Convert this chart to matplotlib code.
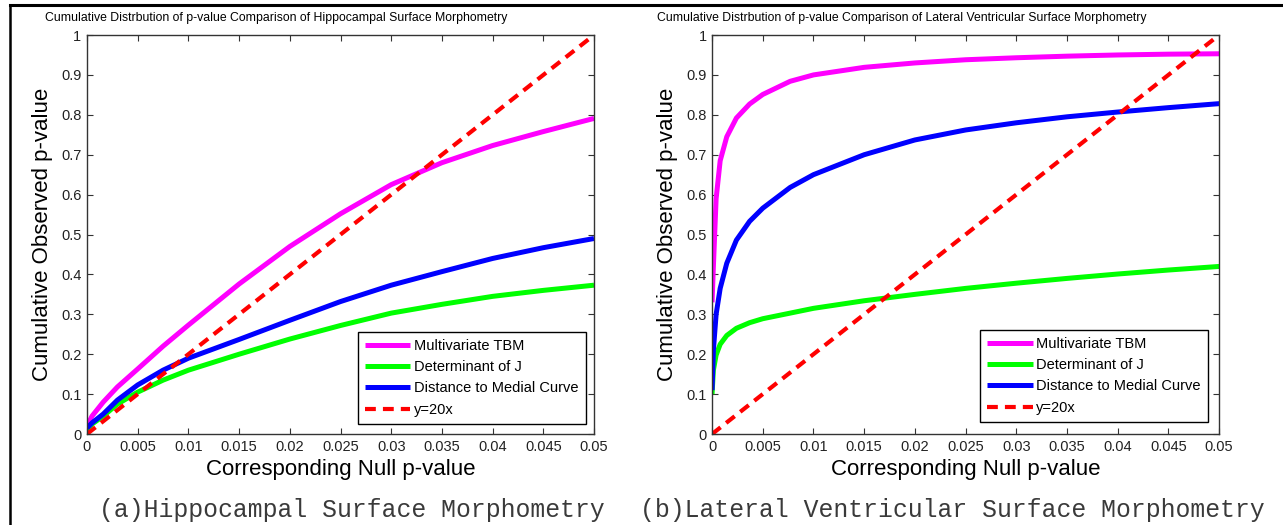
import matplotlib
matplotlib.use('Agg')
import matplotlib.pyplot as plt
from matplotlib.lines import Line2D
from matplotlib.ticker import FormatStrFormatter

# hippocampal panel (a)
hip_x = [0, 0.0005, 0.0016, 0.003, 0.005, 0.0075, 0.01, 0.015, 0.02, 0.025, 0.03, 0.035, 0.04, 0.045, 0.05]
hip_mtbm = [0.02, 0.045, 0.08, 0.118, 0.163, 0.22, 0.273, 0.376, 0.47, 0.552, 0.625, 0.68, 0.723, 0.758, 0.791]
hip_detj = [0.01, 0.025, 0.045, 0.075, 0.105, 0.135, 0.16, 0.2, 0.238, 0.272, 0.303, 0.325, 0.345, 0.36, 0.373]
hip_dist = [0.015, 0.028, 0.05, 0.085, 0.123, 0.16, 0.19, 0.237, 0.285, 0.332, 0.373, 0.407, 0.44, 0.467, 0.49]

# lateral ventricular panel (b)
lat_x = [0, 0.00013, 0.0004, 0.0008, 0.00145, 0.0024, 0.0037, 0.005, 0.0077, 0.01,
         0.015, 0.02, 0.025, 0.03, 0.035, 0.04, 0.045, 0.05]
lat_mtbm = [0.33, 0.42, 0.59, 0.685, 0.745, 0.792, 0.827, 0.851, 0.884, 0.90,
            0.919, 0.93, 0.938, 0.943, 0.947, 0.95, 0.952, 0.953]
lat_detj = [0.10, 0.16, 0.198, 0.225, 0.247, 0.265, 0.279, 0.289, 0.303, 0.315,
            0.334, 0.35, 0.365, 0.378, 0.39, 0.401, 0.411, 0.42]
lat_dist = [0.11, 0.21, 0.30, 0.365, 0.428, 0.486, 0.533, 0.566, 0.618, 0.65,
            0.70, 0.737, 0.762, 0.78, 0.795, 0.807, 0.818, 0.828]

# reference line y = 20x
ref_x = [0, 0.05]
ref_y = [0, 1]

labels = ['Multivariate TBM', 'Determinant of J', 'Distance to Medial Curve', 'y=20x']
colors = ['#ff00ff', '#00ff00', '#0000ff', '#ff0000']
titles = ['Cumulative Distrbution of p-value Comparison of Hippocampal Surface Morphometry',
          'Cumulative Distrbution of p-value Comparison of Lateral Ventricular Surface Morphometry']
captions = ['(a)Hippocampal Surface Morphometry', '(b)Lateral Ventricular Surface Morphometry']

xticks = [0, 0.005, 0.01, 0.015, 0.02, 0.025, 0.03, 0.035, 0.04, 0.045, 0.05]
yticks = [0, 0.1, 0.2, 0.3, 0.4, 0.5, 0.6, 0.7, 0.8, 0.9, 1]

plt.rcParams['font.family'] = ['Liberation Sans', 'DejaVu Sans']

fig = plt.figure(figsize=(12.83, 5.25), dpi=100)
ax_pos = [[0.0678, 0.1733, 0.3952, 0.760], [0.555, 0.1733, 0.3952, 0.760]]
panels = [(hip_x, [hip_mtbm, hip_detj, hip_dist]), (lat_x, [lat_mtbm, lat_detj, lat_dist])]
leg_anchor = [(0.984, 0.025), (0.978, 0.03)]
cap_x = [352 / 1283, 952 / 1283]

for i, (x, series) in enumerate(panels):
    ax = fig.add_axes(ax_pos[i])
    for j, y in enumerate(series):
        ax.plot(x, y, color=colors[j], linewidth=3.6, label=labels[j],
                solid_joinstyle='round', solid_capstyle='butt')
    ax.plot(ref_x, ref_y, color=colors[3], linewidth=3.0, linestyle=(0, (2.6, 1.7)),
            dash_capstyle='butt', label=labels[3])

    ax.set_xlim(0, 0.05)
    ax.set_ylim(0, 1)
    ax.set_xticks(xticks)
    ax.set_yticks(yticks)
    ax.xaxis.set_major_formatter(FormatStrFormatter('%g'))
    ax.yaxis.set_major_formatter(FormatStrFormatter('%g'))
    ax.tick_params(direction='in', top=True, right=True, length=4, width=0.8,
                   labelsize=10.5, labelcolor='#222222', color='#333333', pad=4)
    for s in ax.spines.values():
        s.set_color('#333333')
        s.set_linewidth(1.0)

    ax.set_xlabel('Corresponding Null p-value', fontsize=16, labelpad=4)
    ax.set_ylabel('Cumulative Observed p-value', fontsize=16, labelpad=6)
    ax.text(0.374, 1.043, titles[i], transform=ax.transAxes, ha='center', va='center',
            fontsize=8.8)

    leg = ax.legend(loc='lower right', bbox_to_anchor=leg_anchor[i], borderaxespad=0,
                    fontsize=10.5, fancybox=False, framealpha=1, edgecolor='black',
                    handlelength=3.1, handletextpad=0.25, labelspacing=0.5,
                    borderpad=0.5)
    leg.get_frame().set_linewidth(1.0)

    fig.text(cap_x[i], 0.028, captions[i], ha='center', va='center', fontsize=17.8,
             color='#3a3a3a', family=['Liberation Mono', 'DejaVu Sans Mono'])

# outer frame lines (top and left)
fig.add_artist(Line2D([10 / 1283, 1.0], [1 - 5 / 525, 1 - 5 / 525], color='black', linewidth=2.2))
fig.add_artist(Line2D([10 / 1283, 10 / 1283], [0, 1 - 5 / 525], color='black', linewidth=1.8))

fig.savefig('out.png', dpi=100)
